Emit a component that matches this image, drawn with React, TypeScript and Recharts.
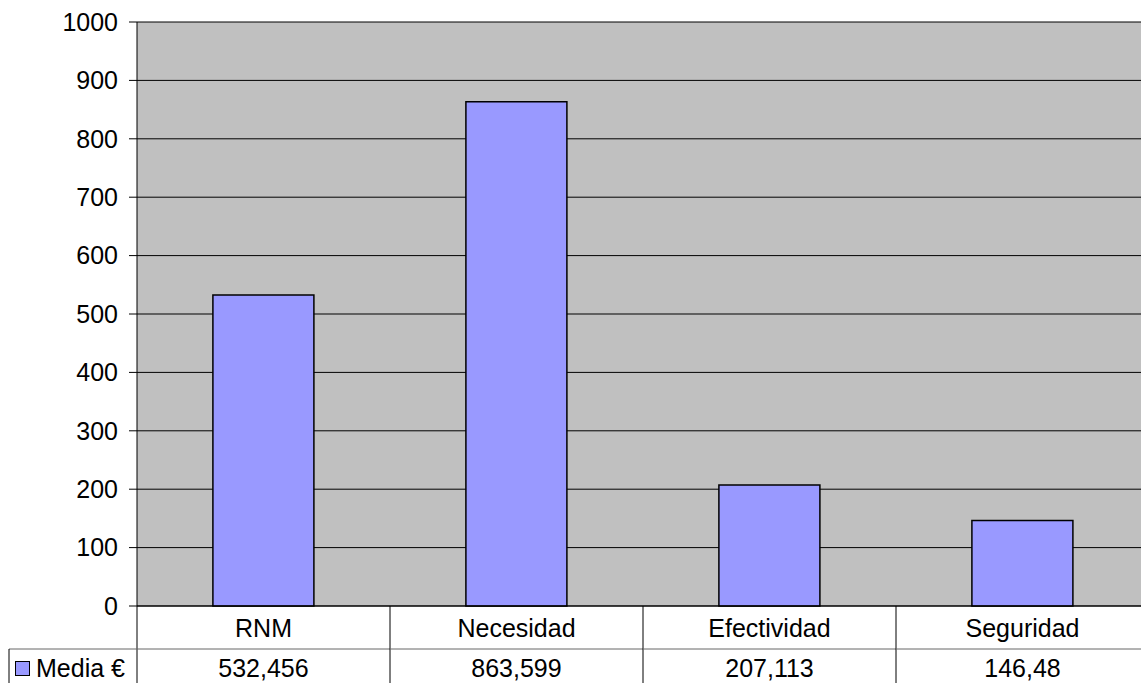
import React from "react";
import { BarChart, Bar, XAxis, YAxis, CartesianGrid } from "recharts";

const categories = ["RNM", "Necesidad", "Efectividad", "Seguridad"];
const mediaValues = [532.456, 863.599, 207.113, 146.48];
const yTicks = [0, 100, 200, 300, 400, 500, 600, 700, 800, 900, 1000];
const seriesName = "Media €";

const data = categories.map((c, i) => ({ name: c, media: mediaValues[i] }));

const FONT = "'Liberation Sans', Arial, sans-serif";
const W = 1141;
const CW = 1149;
const H = 683;
const PLOT_LEFT = 137;
const BAND = (CW - PLOT_LEFT) / categories.length;
const ROW1 = 43;

const fmt = (v: number) => String(v).replace(".", ",");

const TableTick = (props: any) => {
  const { x, y, payload } = props;
  const idx = categories.indexOf(payload.value);
  const half = BAND / 2;
  const left = x - half;
  return (
    <g>
      <line x1={left} y1={y} x2={left} y2={H} stroke="#000" strokeWidth={1} />
      <line x1={left} y1={y + ROW1} x2={x + half} y2={y + ROW1} stroke="#666" strokeWidth={1} />
      <text x={x} y={y + 22} textAnchor="middle" dominantBaseline="central" fontFamily={FONT} fontSize={25} fill="#000">
        {payload.value}
      </text>
      <text x={x} y={y + 62} textAnchor="middle" dominantBaseline="central" fontFamily={FONT} fontSize={25} fill="#000">
        {fmt(mediaValues[idx])}
      </text>
      {idx === 0 && (
        <g>
          <line x1={9} y1={y + ROW1} x2={left} y2={y + ROW1} stroke="#666" strokeWidth={1} />
          <line x1={9} y1={y + ROW1} x2={9} y2={H} stroke="#000" strokeWidth={1} />
          <rect x={15.5} y={y + 55.5} width={14} height={14} fill="#9999FF" stroke="#000" strokeWidth={1} />
          <text x={36} y={y + 62} textAnchor="start" dominantBaseline="central" fontFamily={FONT} fontSize={25} fill="#000">
            {seriesName}
          </text>
        </g>
      )}
    </g>
  );
};

export default function App() {
  return (
    <div style={{ position: "absolute", left: 0, top: 0, width: W, height: H, overflow: "hidden", background: "#fff" }}>
      <BarChart
        width={CW}
        height={H}
        data={data}
        margin={{ top: 22, right: 0, bottom: 0, left: 0 }}
        barCategoryGap="30%"
      >
        <CartesianGrid
          vertical={false}
          horizontal={true}
          stroke="#000"
          strokeWidth={1}
          fill="#C0C0C0"
          fillOpacity={1}
        />
        <YAxis
          width={PLOT_LEFT}
          domain={[0, 1000]}
          ticks={yTicks}
          interval={0}
          tickSize={8}
          tickMargin={11}
          axisLine={{ stroke: "#000" }}
          tickLine={{ stroke: "#000" }}
          tick={{ fill: "#000", fontFamily: FONT, fontSize: 25 }}
        />
        <XAxis
          dataKey="name"
          height={77}
          interval={0}
          tickSize={0}
          tickMargin={0}
          tickLine={false}
          axisLine={{ stroke: "#000" }}
          tick={<TableTick />}
        />
        <Bar dataKey="media" fill="#9999FF" stroke="#000" strokeWidth={1.5} isAnimationActive={false} />
      </BarChart>
    </div>
  );
}
